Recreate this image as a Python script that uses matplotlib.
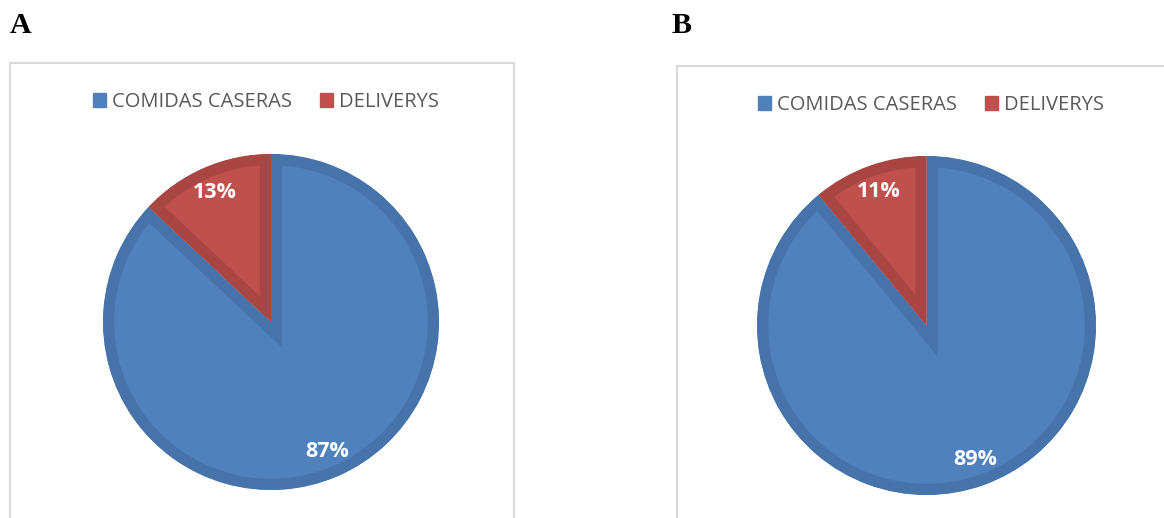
import matplotlib
matplotlib.use("Agg")
import matplotlib.pyplot as plt
from matplotlib.patches import Rectangle, Patch

W, H = 1164, 518

categories = ["COMIDAS CASERAS", "DELIVERYS"]
values_a = [87, 13]
values_b = [89, 11]
panel_labels = ["A", "B"]

face_colors = ["#4F81BD", "#C0504D"]
edge_colors = ["#4673A9", "#A94643"]

plt.rcParams['font.family'] = ['Open Sans', 'DejaVu Sans']

fig = plt.figure(figsize=(W / 100, H / 100), dpi=100)


def px_axes(cx, cy, r):
    # axes square around a pie centre given in pixels from top-left
    return fig.add_axes([(cx - r) / W, (H - cy - r) / H, 2 * r / W, 2 * r / H])


def draw_panel(values, cx, cy, r, box, leg_xy, letter_xy, letter):
    # frame of the chart area
    bx, by, bw, bh = box
    fig.patches.append(Rectangle((bx / W, (H - by - bh) / H), bw / W, bh / H,
                                 transform=fig.transFigure, fill=False,
                                 edgecolor="#D9D9D9", linewidth=1.5, clip_on=False))
    fig.text(letter_xy[0] / W, 1 - letter_xy[1] / H, letter, family="Liberation Serif",
             fontweight="bold", fontsize=21.5, va="baseline", ha="left")

    ax = px_axes(cx, cy, r)
    wedges, texts, autotexts = ax.pie(values, colors=face_colors, startangle=90,
                                      counterclock=False, autopct="%d%%",
                                      pctdistance=0.84, radius=1,
                                      textprops=dict(color="white", fontsize=15.5,
                                                     fontweight="bold"))
    # darker inner rim: stroke clipped to the wedge itself
    for w, ec in zip(wedges, edge_colors):
        w.set_edgecolor(ec)
        w.set_linewidth(16)
        w.set_joinstyle("miter")
        w.set_clip_path(w)
        w.set_clip_on(True)
    ax.set_xlim(-1, 1)
    ax.set_ylim(-1, 1)
    ax.set_aspect("equal")
    ax.axis("off")

    handles = [Patch(facecolor=c, edgecolor=c) for c in face_colors]
    fig.legend(handles, categories, loc="center",
               bbox_to_anchor=(leg_xy[0] / W, 1 - leg_xy[1] / H), ncol=2,
               frameon=False, fontsize=14.5, labelcolor="#595959",
               handlelength=0.65, handleheight=0.65, handletextpad=0.3,
               columnspacing=1.4)


draw_panel(values_a, 271, 322, 168, (10, 63, 504, 480), (266, 102), (10, 33), panel_labels[0])
draw_panel(values_b, 926.5, 325.5, 169.5, (677, 66, 520, 480), (931, 105), (672, 33), panel_labels[1])

fig.savefig("out.png", dpi=100)
